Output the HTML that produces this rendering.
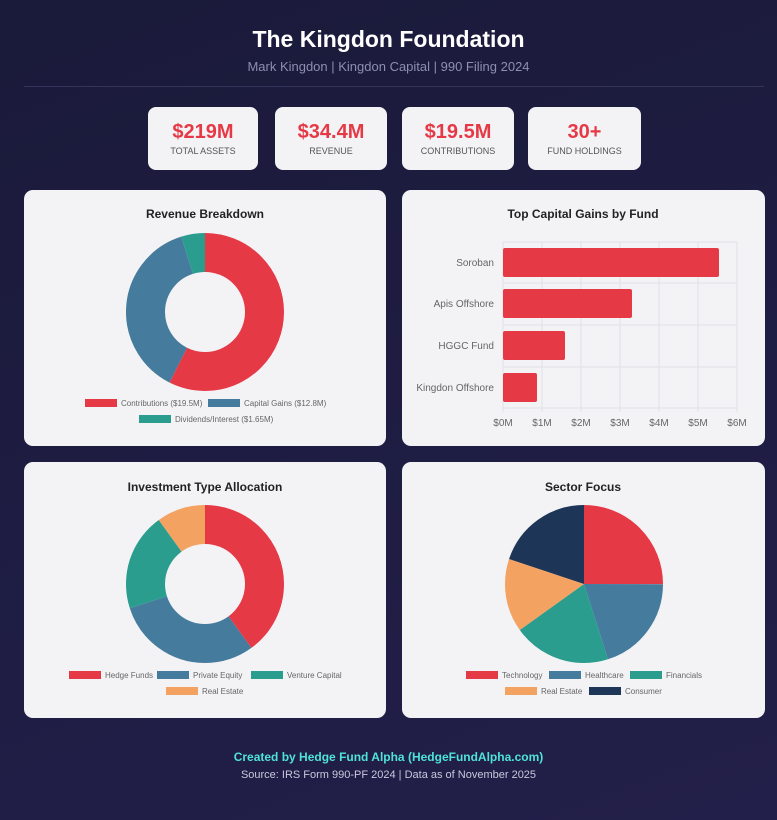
<!DOCTYPE html>
<html><head><meta charset="utf-8"><style>
body{margin:0;width:777px;height:820px;background:linear-gradient(160deg,#1a1a3a,#221f4a);font-family:"Liberation Sans",sans-serif;overflow:hidden;position:relative}
.h1{position:absolute;top:26px;width:777px;text-align:center;color:#fff;font-weight:bold;font-size:23px}
.sub{position:absolute;top:59px;width:777px;text-align:center;color:#8d8fb0;font-size:13px}
.hr{position:absolute;left:24px;top:86px;width:740px;height:1px;background:#34345a}
.stat{position:absolute;top:107px;height:63px;background:#f3f3f6;border-radius:8px;text-align:center}
.stat b{display:block;color:#e63946;font-size:20px;margin-top:14px}
.stat span{display:block;color:#555;font-size:9px;margin-top:2px}
.card{position:absolute;background:#f3f3f6;border-radius:9px}
.foot1{position:absolute;top:750px;width:777px;text-align:center;color:#4fe3d6;font-weight:bold;font-size:12px}
.foot2{position:absolute;top:769px;width:777px;text-align:center;color:#c8c8dc;font-size:11px}
</style></head><body>
<div class="h1">The Kingdon Foundation</div>
<div class="sub">Mark Kingdon | Kingdon Capital | 990 Filing 2024</div>
<div class="hr"></div>
<div class="stat" style="left:148px;width:110px"><b>$219M</b><span>TOTAL ASSETS</span></div>
<div class="stat" style="left:275px;width:112px"><b>$34.4M</b><span>REVENUE</span></div>
<div class="stat" style="left:402px;width:112px"><b>$19.5M</b><span>CONTRIBUTIONS</span></div>
<div class="stat" style="left:528px;width:113px"><b>30+</b><span>FUND HOLDINGS</span></div>
<div class="card" style="left:24px;top:190px;width:362px;height:256px"></div>
<div class="card" style="left:402px;top:190px;width:363px;height:256px"></div>
<div class="card" style="left:24px;top:462px;width:362px;height:256px"></div>
<div class="card" style="left:402px;top:462px;width:363px;height:256px"></div>
<svg width="777" height="820" style="position:absolute;left:0;top:0" font-family="Liberation Sans, sans-serif">
<g font-weight="bold" font-size="12" fill="#222" text-anchor="middle">
<text x="205" y="218">Revenue Breakdown</text>
<text x="583" y="218">Top Capital Gains by Fund</text>
<text x="205" y="491">Investment Type Allocation</text>
<text x="583" y="491">Sector Focus</text>
</g>
<!-- donut 1 -->
<g transform="rotate(-90 205 312)" fill="none" stroke-width="39">
<circle cx="205" cy="312" r="59.5" stroke="#e63946" stroke-dasharray="214.6 400"/>
<circle cx="205" cy="312" r="59.5" stroke="#457b9d" stroke-dasharray="0 214.6 140.9 400"/>
<circle cx="205" cy="312" r="59.5" stroke="#2a9d8f" stroke-dasharray="0 355.5 18.4 400"/>
</g>
<g font-size="8" fill="#666">
<rect x="85" y="399" width="32" height="8" fill="#e63946"/><text x="121" y="406">Contributions ($19.5M)</text>
<rect x="208" y="399" width="32" height="8" fill="#457b9d"/><text x="244" y="406">Capital Gains ($12.8M)</text>
<rect x="139" y="415" width="32" height="8" fill="#2a9d8f"/><text x="175" y="422">Dividends/Interest ($1.65M)</text>
</g>
<!-- bars -->
<g stroke="#e2e2e6" stroke-width="1">
<line x1="503" y1="242" x2="737" y2="242"/><line x1="503" y1="283" x2="737" y2="283"/><line x1="503" y1="325" x2="737" y2="325"/><line x1="503" y1="367" x2="737" y2="367"/><line x1="503" y1="408" x2="737" y2="408"/>
<line x1="503" y1="242" x2="503" y2="412"/><line x1="542" y1="242" x2="542" y2="412"/><line x1="581" y1="242" x2="581" y2="412"/><line x1="620" y1="242" x2="620" y2="412"/><line x1="659" y1="242" x2="659" y2="412"/><line x1="698" y1="242" x2="698" y2="412"/><line x1="737" y1="242" x2="737" y2="412"/>
</g>
<g fill="#e63946">
<rect x="503" y="248" width="216" height="29" rx="2"/>
<rect x="503" y="289" width="129" height="29" rx="2"/>
<rect x="503" y="331" width="62" height="29" rx="2"/>
<rect x="503" y="373" width="34" height="29" rx="2"/>
</g>
<g font-size="10" fill="#666" text-anchor="end">
<text x="494" y="266">Soroban</text><text x="494" y="307">Apis Offshore</text><text x="494" y="349">HGGC Fund</text><text x="494" y="391">Kingdon Offshore</text>
</g>
<g font-size="10" fill="#666" text-anchor="middle">
<text x="503" y="426">$0M</text><text x="542" y="426">$1M</text><text x="581" y="426">$2M</text><text x="620" y="426">$3M</text><text x="659" y="426">$4M</text><text x="698" y="426">$5M</text><text x="737" y="426">$6M</text>
</g>
<!-- donut 2 -->
<g transform="rotate(-90 205 584)" fill="none" stroke-width="39">
<circle cx="205" cy="584" r="59.5" stroke="#e63946" stroke-dasharray="149.5 400"/>
<circle cx="205" cy="584" r="59.5" stroke="#457b9d" stroke-dasharray="0 149.5 112.2 400"/>
<circle cx="205" cy="584" r="59.5" stroke="#2a9d8f" stroke-dasharray="0 261.7 74.8 400"/>
<circle cx="205" cy="584" r="59.5" stroke="#f4a261" stroke-dasharray="0 336.5 37.4 400"/>
</g>
<g font-size="8" fill="#666">
<rect x="69" y="671" width="32" height="8" fill="#e63946"/><text x="105" y="678">Hedge Funds</text>
<rect x="157" y="671" width="32" height="8" fill="#457b9d"/><text x="193" y="678">Private Equity</text>
<rect x="251" y="671" width="32" height="8" fill="#2a9d8f"/><text x="287" y="678">Venture Capital</text>
<rect x="166" y="687" width="32" height="8" fill="#f4a261"/><text x="202" y="694">Real Estate</text>
</g>
<!-- pie -->
<g transform="rotate(-90 584 584)" fill="none" stroke-width="79">
<circle cx="584" cy="584" r="39.5" stroke="#e63946" stroke-dasharray="62.05 300"/>
<circle cx="584" cy="584" r="39.5" stroke="#457b9d" stroke-dasharray="0 62.05 49.64 300"/>
<circle cx="584" cy="584" r="39.5" stroke="#2a9d8f" stroke-dasharray="0 111.69 49.64 300"/>
<circle cx="584" cy="584" r="39.5" stroke="#f4a261" stroke-dasharray="0 161.33 37.23 300"/>
<circle cx="584" cy="584" r="39.5" stroke="#1d3557" stroke-dasharray="0 198.56 49.64 300"/>
</g>
<g font-size="8" fill="#666">
<rect x="466" y="671" width="32" height="8" fill="#e63946"/><text x="502" y="678">Technology</text>
<rect x="549" y="671" width="32" height="8" fill="#457b9d"/><text x="585" y="678">Healthcare</text>
<rect x="630" y="671" width="32" height="8" fill="#2a9d8f"/><text x="666" y="678">Financials</text>
<rect x="505" y="687" width="32" height="8" fill="#f4a261"/><text x="541" y="694">Real Estate</text>
<rect x="589" y="687" width="32" height="8" fill="#1d3557"/><text x="625" y="694">Consumer</text>
</g>
</svg>
<div class="foot1">Created by Hedge Fund Alpha (HedgeFundAlpha.com)</div>
<div class="foot2">Source: IRS Form 990-PF 2024 | Data as of November 2025</div>
</body></html>
